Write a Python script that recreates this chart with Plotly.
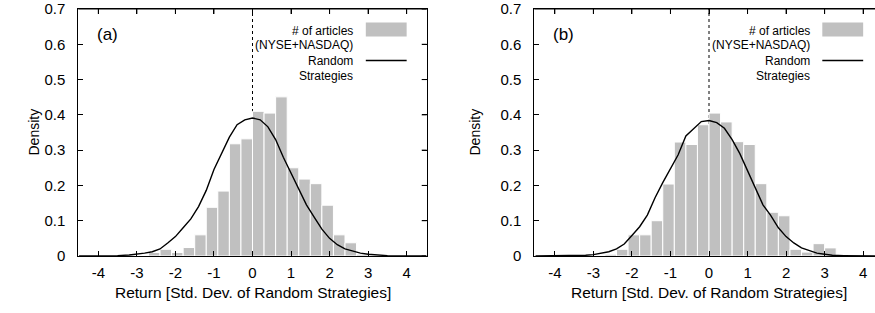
import plotly.graph_objects as go

# ---------------- data ----------------
bin_width = 0.3

a_bin_left = [-2.7, -2.4, -2.1, -1.8, -1.5, -1.2, -0.9, -0.6, -0.3, 0.0,
              0.3, 0.6, 0.9, 1.2, 1.5, 1.8, 2.1, 2.4, 2.7]
a_density = [0.010, 0.019, 0.010, 0.024, 0.060, 0.138, 0.184, 0.318, 0.332, 0.410,
             0.405, 0.451, 0.250, 0.218, 0.205, 0.144, 0.060, 0.0375, 0.005]

b_bin_left = [-2.7, -2.4, -2.1, -1.8, -1.5, -1.2, -0.9, -0.6, -0.3, 0.0,
              0.3, 0.6, 0.9, 1.2, 1.5, 1.8, 2.1, 2.4, 2.7, 3.0]
b_density = [0.005, 0.019, 0.060, 0.060, 0.100, 0.204, 0.323, 0.316, 0.372, 0.405,
             0.380, 0.324, 0.316, 0.205, 0.124, 0.114, 0.019, 0.011, 0.035, 0.023]

curve_x = [-4.5, -4.0, -3.5, -3.2, -3.0, -2.8, -2.6, -2.4, -2.2, -2.0, -1.8, -1.6,
           -1.4, -1.2, -1.0, -0.8, -0.6, -0.4, -0.2, 0.0, 0.2, 0.4, 0.6, 0.8, 1.0,
           1.2, 1.4, 1.6, 1.8, 2.0, 2.2, 2.4, 2.6, 2.8, 3.0, 3.2, 3.5, 4.0, 4.5]
a_random = [0.0, 0.0, 0.001, 0.003, 0.005, 0.008, 0.012, 0.020, 0.037, 0.055, 0.080, 0.105,
            0.140, 0.186, 0.245, 0.290, 0.337, 0.372, 0.386, 0.391, 0.386, 0.366, 0.330, 0.280, 0.235,
            0.188, 0.145, 0.110, 0.076, 0.050, 0.032, 0.020, 0.013, 0.008, 0.005, 0.003, 0.001, 0.0, 0.0]
b_random = [0.0, 0.0, 0.001, 0.002, 0.004, 0.007, 0.012, 0.020, 0.034, 0.058, 0.083, 0.116,
            0.165, 0.208, 0.248, 0.287, 0.340, 0.360, 0.381, 0.384, 0.378, 0.362, 0.330, 0.290, 0.240,
            0.190, 0.145, 0.115, 0.080, 0.055, 0.037, 0.023, 0.015, 0.008, 0.005, 0.002, 0.001, 0.0, 0.0]

x_ticks = [-4, -3, -2, -1, 0, 1, 2, 3, 4]
x_tick_labels = ["-4", "-3", "-2", "-1", "0", "1", "2", "3", "4"]
y_ticks = [0, 0.1, 0.2, 0.3, 0.4, 0.5, 0.6, 0.7]
y_tick_labels = ["0", "0.1", "0.2", "0.3", "0.4", "0.5", "0.6", "0.7"]

panel_labels = ["(a)", "(b)"]
legend_lines = ["# of articles", "(NYSE+NASDAQ)", "Random", "Strategies"]
x_title = "Return [Std. Dev. of Random Strategies]"
y_title = "Density"

# ---------------- styling ----------------
W, H = 875, 313
FONT = "Liberation Sans, Arial, Helvetica, sans-serif"
BAR_COLOR = "#c0c0c0"

fig = go.Figure()

panels = [
    ("x", "y", a_bin_left, a_density, a_random),
    ("x2", "y2", b_bin_left, b_density, b_random),
]
for xa, ya, bl, dens, rnd in panels:
    fig.add_trace(go.Bar(x=bl, y=dens, width=bin_width, offset=0,
                         marker=dict(color=BAR_COLOR, line=dict(color="white", width=1)),
                         xaxis=xa, yaxis=ya, showlegend=False, hoverinfo="skip"))
    fig.add_trace(go.Scatter(x=curve_x, y=rnd, mode="lines",
                             line=dict(color="black", width=1.4),
                             xaxis=xa, yaxis=ya, showlegend=False, hoverinfo="skip"))

axis_common = dict(showgrid=False, zeroline=False, showline=True, linecolor="black",
                   linewidth=1, ticks="inside", ticklen=5, tickcolor="black",
                   ticklabeloverflow="allow",
                   tickfont=dict(family=FONT, size=15, color="black"))

fig.update_layout(
    width=W, height=H,
    margin=dict(l=0, r=0, t=7, b=57),
    paper_bgcolor="white", plot_bgcolor="white",
    showlegend=False,
    font=dict(family=FONT, color="black"),
    xaxis=dict(domain=[78.3 / W, 426.7 / W], range=[-4.52, 4.52], anchor="y",
               tickvals=x_ticks, ticktext=x_tick_labels, mirror="ticks",
               ticklabelstandoff=3, **axis_common),
    yaxis=dict(domain=[0, 1], range=[0, 0.7], anchor="x",
               tickvals=y_ticks, ticktext=y_tick_labels, mirror="ticks",
               ticklabelstandoff=9, **axis_common),
    xaxis2=dict(domain=[534.3 / W, 1.0], range=[-4.533, 4.307], anchor="y2",
                tickvals=x_ticks, ticktext=x_tick_labels, mirror="ticks",
                ticklabelstandoff=3, **axis_common),
    yaxis2=dict(domain=[0, 1], range=[0, 0.7], anchor="x2",
                tickvals=y_ticks, ticktext=y_tick_labels, mirror=False,
                ticklabelstandoff=9, **axis_common),
)

shapes = []
annotations = []
for i, (xa, ya) in enumerate([("x", "y"), ("x2", "y2")]):
    # frame top edge with inward ticks
    shapes.append(dict(type="line", xref=xa + " domain", yref=ya + " domain",
                       x0=0, x1=1, y0=1, y1=1, line=dict(color="black", width=1)))
    for t in x_ticks:
        shapes.append(dict(type="line", xref=xa, yref=ya + " domain", x0=t, x1=t,
                           y0=1, y1=1 - 5 / 249, line=dict(color="black", width=1)))
    # dotted reference line at zero
    shapes.append(dict(type="line", xref=xa, yref=ya, x0=0, x1=0, y0=0, y1=0.7,
                       line=dict(color="black", width=1, dash="dot"), layer="below"))
    # legend swatch and line
    shapes.append(dict(type="rect", xref=xa, yref=ya, x0=2.94, x1=4.0, y0=0.622, y1=0.662,
                       fillcolor=BAR_COLOR, line=dict(width=0)))
    shapes.append(dict(type="line", xref=xa, yref=ya, x0=2.94, x1=4.0, y0=0.554, y1=0.554,
                       line=dict(color="black", width=1.4)))
    for txt, yv in zip(legend_lines, [0.639, 0.597, 0.552, 0.509]):
        annotations.append(dict(text=txt, xref=xa, yref=ya, x=2.66, y=yv,
                                xanchor="right", yanchor="middle", showarrow=False,
                                font=dict(family=FONT, size=12, color="black")))
    # panel label
    annotations.append(dict(text=panel_labels[i], xref=xa, yref=ya, x=-4.09, y=0.628,
                            xanchor="left", yanchor="middle", showarrow=False,
                            font=dict(family=FONT, size=17, color="black")))
    # x title
    annotations.append(dict(text=x_title, xref=xa, yref="paper", x=0, y=(256 - 293) / 249,
                            xanchor="center", yanchor="middle", showarrow=False,
                            font=dict(family=FONT, size=15.5, color="black")))

# right-side inward ticks for panel (a)
for t in y_ticks:
    shapes.append(dict(type="line", xref="x domain", yref="y", x0=1, x1=1 - 5 / 348.4,
                       y0=t, y1=t, line=dict(color="black", width=1)))

# y titles
for xpix in [33, 474]:
    annotations.append(dict(text=y_title, xref="paper", yref="paper", x=xpix / W, y=0.5,
                            xanchor="center", yanchor="middle", textangle=-90, showarrow=False,
                            font=dict(family=FONT, size=14, color="black")))

fig.update_layout(shapes=shapes, annotations=annotations)
fig.write_html("out.html",
               config={"displayModeBar": False},
               post_script="document.body.style.margin='0';document.body.style.padding='0';")
